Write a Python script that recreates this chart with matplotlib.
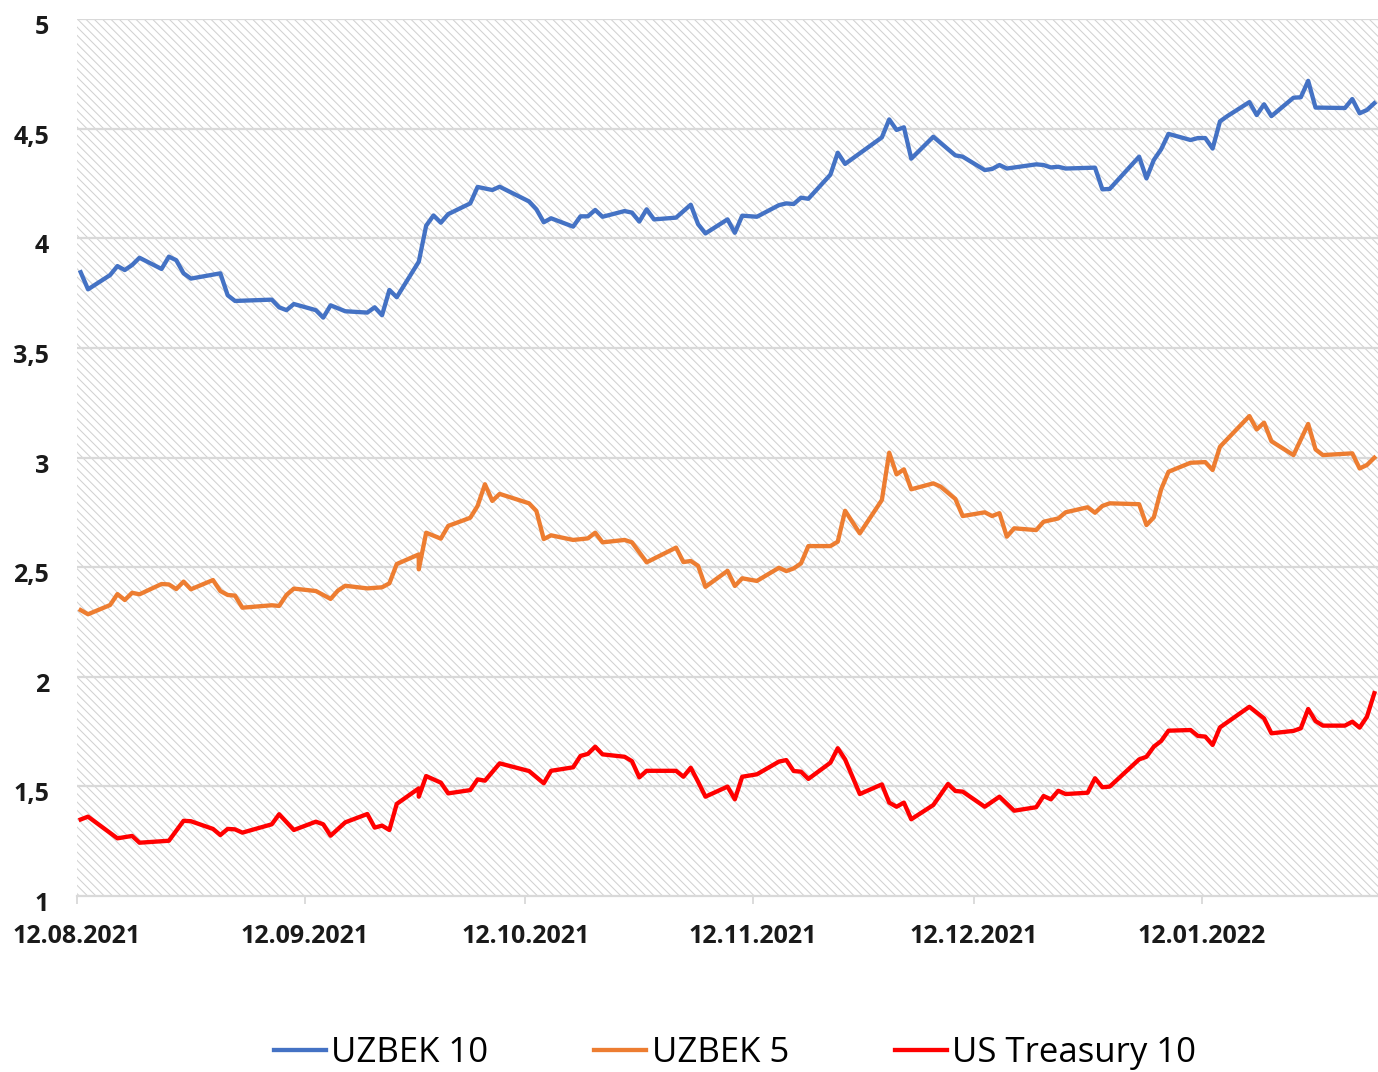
import matplotlib
matplotlib.use("Agg")
import matplotlib.pyplot as plt
import matplotlib.dates as mdates
from matplotlib.patches import Rectangle
from matplotlib.transforms import ScaledTranslation
import pandas as pd

plt.rcParams['font.family'] = ['Open Sans', 'DejaVu Sans']
plt.rcParams['hatch.linewidth'] = 0.75

# --- data (yields, %) ---
uzbek10_dates = [
    "2021-08-12", "2021-08-13", "2021-08-16", "2021-08-17", "2021-08-18", "2021-08-19", "2021-08-20",
    "2021-08-23", "2021-08-24", "2021-08-25", "2021-08-26", "2021-08-27", "2021-08-31",
    "2021-09-01", "2021-09-02", "2021-09-07", "2021-09-08", "2021-09-09", "2021-09-10", "2021-09-13",
    "2021-09-14", "2021-09-15", "2021-09-17", "2021-09-20", "2021-09-21", "2021-09-22", "2021-09-23",
    "2021-09-24", "2021-09-27", "2021-09-28", "2021-09-29", "2021-09-30",
    "2021-10-01", "2021-10-04", "2021-10-05", "2021-10-07", "2021-10-08", "2021-10-12", "2021-10-13",
    "2021-10-14", "2021-10-15", "2021-10-18", "2021-10-19", "2021-10-20", "2021-10-21", "2021-10-22",
    "2021-10-25", "2021-10-26", "2021-10-27", "2021-10-28", "2021-10-29",
    "2021-11-01", "2021-11-03", "2021-11-04", "2021-11-05", "2021-11-08", "2021-11-09", "2021-11-10",
    "2021-11-12", "2021-11-15", "2021-11-16", "2021-11-17", "2021-11-18", "2021-11-19", "2021-11-22",
    "2021-11-23", "2021-11-24", "2021-11-29", "2021-11-30",
    "2021-12-01", "2021-12-02", "2021-12-03", "2021-12-06", "2021-12-09", "2021-12-10", "2021-12-13",
    "2021-12-14", "2021-12-15", "2021-12-16", "2021-12-20", "2021-12-21", "2021-12-22", "2021-12-23",
    "2021-12-24", "2021-12-28", "2021-12-29", "2021-12-30",
    "2022-01-03", "2022-01-04", "2022-01-05", "2022-01-06", "2022-01-07", "2022-01-10", "2022-01-11",
    "2022-01-12", "2022-01-13", "2022-01-14", "2022-01-15", "2022-01-18", "2022-01-19", "2022-01-20",
    "2022-01-21", "2022-01-24", "2022-01-25", "2022-01-26", "2022-01-27", "2022-01-31",
    "2022-02-01", "2022-02-02", "2022-02-03", "2022-02-04",
]
uzbek10 = [
    3.845, 3.767, 3.832, 3.873, 3.855, 3.878, 3.911, 3.86, 3.916, 3.90, 3.84, 3.816, 3.84,
    3.74, 3.714, 3.72, 3.685, 3.672, 3.70, 3.672, 3.638, 3.694, 3.667, 3.661, 3.685, 3.649, 3.764,
    3.731, 3.893, 4.057, 4.104, 4.071,
    4.11, 4.159, 4.234, 4.22, 4.235, 4.168, 4.132, 4.073, 4.091, 4.053, 4.10, 4.10, 4.129, 4.098,
    4.124, 4.117, 4.076, 4.132, 4.086,
    4.094, 4.153, 4.064, 4.022, 4.086, 4.025, 4.103, 4.098, 4.151, 4.159, 4.156, 4.185, 4.18, 4.29,
    4.39, 4.339, 4.46, 4.542,
    4.494, 4.506, 4.363, 4.463, 4.378, 4.372, 4.311, 4.316, 4.334, 4.318, 4.337, 4.334, 4.323, 4.326,
    4.318, 4.322, 4.223, 4.225,
    4.372, 4.273, 4.357, 4.406, 4.476, 4.448, 4.457, 4.457, 4.409, 4.533, 4.557, 4.621, 4.562, 4.611,
    4.557, 4.641, 4.643, 4.718, 4.596, 4.594,
    4.635, 4.57, 4.585, 4.616,
]

uzbek5_dates = [
    "2021-08-12", "2021-08-13", "2021-08-16", "2021-08-17", "2021-08-18", "2021-08-19", "2021-08-20",
    "2021-08-23", "2021-08-24", "2021-08-25", "2021-08-26", "2021-08-27", "2021-08-30", "2021-08-31",
    "2021-09-01", "2021-09-02", "2021-09-03", "2021-09-07", "2021-09-08", "2021-09-09", "2021-09-10",
    "2021-09-13", "2021-09-15", "2021-09-16", "2021-09-17", "2021-09-20", "2021-09-22", "2021-09-23",
    "2021-09-24", "2021-09-27", "2021-09-27", "2021-09-28", "2021-09-30",
    "2021-10-01", "2021-10-04", "2021-10-05", "2021-10-06", "2021-10-07", "2021-10-08", "2021-10-12",
    "2021-10-13", "2021-10-14", "2021-10-15", "2021-10-18", "2021-10-20", "2021-10-21", "2021-10-22",
    "2021-10-25", "2021-10-26", "2021-10-28",
    "2021-11-01", "2021-11-02", "2021-11-03", "2021-11-04", "2021-11-05", "2021-11-08", "2021-11-09",
    "2021-11-10", "2021-11-12", "2021-11-15", "2021-11-16", "2021-11-17", "2021-11-18", "2021-11-19",
    "2021-11-22", "2021-11-23", "2021-11-24", "2021-11-26", "2021-11-29", "2021-11-30",
    "2021-12-01", "2021-12-02", "2021-12-03", "2021-12-06", "2021-12-07", "2021-12-09", "2021-12-10",
    "2021-12-13", "2021-12-14", "2021-12-15", "2021-12-16", "2021-12-17", "2021-12-20", "2021-12-21",
    "2021-12-23", "2021-12-24", "2021-12-27", "2021-12-28", "2021-12-29", "2021-12-30",
    "2022-01-03", "2022-01-04", "2022-01-05", "2022-01-06", "2022-01-07", "2022-01-10", "2022-01-12",
    "2022-01-13", "2022-01-14", "2022-01-18", "2022-01-19", "2022-01-20", "2022-01-21", "2022-01-24",
    "2022-01-26", "2022-01-27", "2022-01-28",
    "2022-02-01", "2022-02-02", "2022-02-03", "2022-02-04",
]
uzbek5 = [
    2.304, 2.285, 2.327, 2.377, 2.35, 2.383, 2.376, 2.423, 2.421, 2.40, 2.434, 2.399, 2.441, 2.391,
    2.373, 2.37, 2.315, 2.326, 2.323, 2.373, 2.402, 2.391, 2.355, 2.393, 2.415, 2.403, 2.408, 2.426,
    2.514, 2.558, 2.49, 2.657, 2.63,
    2.688, 2.725, 2.779, 2.878, 2.802, 2.834, 2.791, 2.756, 2.628, 2.645, 2.624, 2.631, 2.657, 2.613,
    2.624, 2.613, 2.522,
    2.589, 2.523, 2.528, 2.506, 2.41, 2.483, 2.414, 2.449, 2.437, 2.497, 2.482, 2.494, 2.517, 2.596,
    2.596, 2.616, 2.757, 2.654, 2.806, 3.022,
    2.923, 2.946, 2.855, 2.882, 2.867, 2.811, 2.733, 2.75, 2.733, 2.746, 2.639, 2.677, 2.669, 2.707,
    2.722, 2.75, 2.773, 2.748, 2.779, 2.791,
    2.787, 2.692, 2.727, 2.855, 2.935, 2.976, 2.979, 2.943, 3.049, 3.189, 3.128, 3.159, 3.074, 3.011,
    3.153, 3.037, 3.011,
    3.019, 2.95, 2.966, 2.999,
]

ust10_dates = [
    "2021-08-12", "2021-08-13", "2021-08-17", "2021-08-19", "2021-08-20", "2021-08-24", "2021-08-26",
    "2021-08-27", "2021-08-30", "2021-08-31",
    "2021-09-01", "2021-09-02", "2021-09-03", "2021-09-07", "2021-09-08", "2021-09-10", "2021-09-13",
    "2021-09-14", "2021-09-15", "2021-09-17", "2021-09-20", "2021-09-21", "2021-09-22", "2021-09-23",
    "2021-09-24", "2021-09-27", "2021-09-27", "2021-09-28", "2021-09-30",
    "2021-10-01", "2021-10-04", "2021-10-05", "2021-10-06", "2021-10-08", "2021-10-12", "2021-10-14",
    "2021-10-15", "2021-10-18", "2021-10-19", "2021-10-20", "2021-10-21", "2021-10-22", "2021-10-25",
    "2021-10-26", "2021-10-27", "2021-10-28",
    "2021-11-01", "2021-11-02", "2021-11-03", "2021-11-04", "2021-11-05", "2021-11-08", "2021-11-09",
    "2021-11-10", "2021-11-12", "2021-11-15", "2021-11-16", "2021-11-17", "2021-11-18", "2021-11-19",
    "2021-11-22", "2021-11-23", "2021-11-24", "2021-11-26", "2021-11-29", "2021-11-30",
    "2021-12-01", "2021-12-02", "2021-12-03", "2021-12-06", "2021-12-08", "2021-12-09", "2021-12-10",
    "2021-12-13", "2021-12-15", "2021-12-17", "2021-12-20", "2021-12-21", "2021-12-22", "2021-12-23",
    "2021-12-24", "2021-12-27", "2021-12-28", "2021-12-29", "2021-12-30",
    "2022-01-03", "2022-01-04", "2022-01-05", "2022-01-06", "2022-01-07", "2022-01-10", "2022-01-11",
    "2022-01-12", "2022-01-13", "2022-01-14", "2022-01-18", "2022-01-20", "2022-01-21", "2022-01-24",
    "2022-01-25", "2022-01-26", "2022-01-27", "2022-01-28", "2022-01-31",
    "2022-02-01", "2022-02-02", "2022-02-03", "2022-02-04",
]
ust10 = [
    1.349, 1.362, 1.263, 1.274, 1.243, 1.252, 1.343, 1.341, 1.306, 1.278,
    1.306, 1.304, 1.289, 1.327, 1.373, 1.301, 1.339, 1.327, 1.275, 1.336, 1.374, 1.312, 1.321, 1.301,
    1.42, 1.491, 1.453, 1.547, 1.517,
    1.468, 1.483, 1.532, 1.526, 1.605, 1.57, 1.514, 1.571, 1.587, 1.639, 1.648, 1.681, 1.646, 1.635,
    1.615, 1.541, 1.571,
    1.571, 1.544, 1.585, 1.521, 1.453, 1.499, 1.441, 1.544, 1.555, 1.613, 1.62, 1.57, 1.567, 1.534,
    1.608, 1.674, 1.623, 1.465, 1.509, 1.426,
    1.407, 1.426, 1.35, 1.415, 1.511, 1.479, 1.476, 1.407, 1.453, 1.389, 1.405, 1.456, 1.441, 1.48,
    1.465, 1.471, 1.537, 1.496, 1.499,
    1.623, 1.635, 1.681, 1.707, 1.754, 1.757, 1.73, 1.727, 1.689, 1.769, 1.863, 1.81, 1.742, 1.753,
    1.765, 1.853, 1.798, 1.777, 1.777,
    1.795, 1.768, 1.818, 1.925,
]

series = [
    ("UZBEK 10", uzbek10_dates, uzbek10, "#4472C4"),
    ("UZBEK 5", uzbek5_dates, uzbek5, "#ED7D31"),
    ("US Treasury 10", ust10_dates, ust10, "#FF0000"),
]
tick_dates = ["2021-08-12", "2021-09-12", "2021-10-12", "2021-11-12", "2021-12-12", "2022-01-12"]
y_ticks = [1, 1.5, 2, 2.5, 3, 3.5, 4, 4.5, 5]

fig = plt.figure(figsize=(13.78, 10.72), dpi=100)
ax = fig.add_axes([77 / 1378, 1 - 896 / 1072, 1 - 77 / 1378, (896 - 19) / 1072])

# hatched plot area
ax.add_patch(Rectangle((0, 0), 1, 1, transform=ax.transAxes, facecolor="white",
                       edgecolor="#d2d2d2", hatch="\\\\\\\\", lw=0, zorder=0))

for name, d, v, c in series:
    x = pd.to_datetime(d) + pd.Timedelta(hours=12)
    ax.plot(x, v, color=c, lw=3.1, label=name, solid_joinstyle="round", zorder=3)

ax.set_ylim(1, 5)
ax.set_xlim(pd.Timestamp("2021-08-12"), pd.Timestamp("2022-02-05"))
ax.set_yticks(y_ticks)
ax.set_yticklabels([f"{t:g}".replace(".", ",") for t in y_ticks])
ax.set_xticks(pd.to_datetime(tick_dates))
ax.xaxis.set_major_formatter(mdates.DateFormatter("%d.%m.%Y"))

for t in y_ticks[1:]:
    ax.axhline(t, color="#d9d9d9", lw=1.6, zorder=1)

for s in ["left", "right", "top"]:
    ax.spines[s].set_visible(False)
ax.spines["bottom"].set_color("#d9d9d9")
ax.spines["bottom"].set_linewidth(1.6)
ax.spines["bottom"].set_zorder(2)

ax.tick_params(axis="y", length=0, pad=20, labelsize=18)
ax.tick_params(axis="x", length=6, width=1.3, color="#d9d9d9", pad=14, labelsize=18)
for lbl in ax.get_xticklabels() + ax.get_yticklabels():
    lbl.set_fontweight("bold")
    lbl.set_color("#1a1a1a")
for lbl in ax.get_yticklabels():
    lbl.set_transform(lbl.get_transform() + ScaledTranslation(0, -4 / 72, fig.dpi_scale_trans))

fig.legend(loc="center", bbox_to_anchor=(735 / 1378, 1 - 1053 / 1072), ncol=3, frameon=False,
           fontsize=25, handlelength=1.5, handletextpad=0.15, columnspacing=3.05)

fig.savefig("out.png", dpi=100)
